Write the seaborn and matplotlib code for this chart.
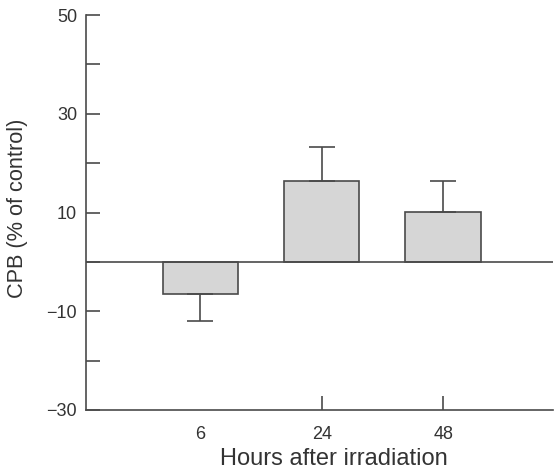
import matplotlib
matplotlib.use("Agg")
import matplotlib.pyplot as plt
import seaborn as sns
import pandas as pd
import numpy as np

# CPB response after irradiation, relative to control
hours = ["6", "24", "48"]
cpb_mean = [-6.5, 16.3, 10.2]
cpb_err = [5.5, 7.0, 6.1]

sns.set_theme(style="white")
plt.rcParams["font.family"] = ["Liberation Sans", "DejaVu Sans"]

ink = "#333333"
line = "#4a4a4a"
df = pd.DataFrame({"hours": hours, "cpb": cpb_mean})

fig = plt.figure(figsize=(5.6, 4.73), dpi=100)
ax = fig.add_axes([0.1536, 0.1332, 0.834, 0.8348])

sns.barplot(data=df, x="hours", y="cpb", ax=ax, color="#d6d6d6",
            edgecolor=line, linewidth=1.2, width=0.62, saturation=1)

# one-sided error bars pointing away from zero
for i, (m, e) in enumerate(zip(cpb_mean, cpb_err)):
    yerr = [[0], [e]] if m >= 0 else [[e], [0]]
    ax.errorbar(i, m, yerr=yerr, fmt="none", ecolor=line, elinewidth=1.2,
                capsize=9.5, capthick=1.2, zorder=3)

ax.axhline(0, color=line, lw=1.2, zorder=4)

ax.set_xlim(-0.94, 2.905)
ax.set_ylim(-30, 50)
ax.set_yticks([-30, -10, 10, 30, 50])
ax.set_yticks([-20, 0, 20, 40], minor=True)

for side in ["top", "right"]:
    ax.spines[side].set_visible(False)
for side in ["left", "bottom"]:
    ax.spines[side].set_color(line)
    ax.spines[side].set_linewidth(1.2)

ax.tick_params(axis="y", which="both", direction="in", length=10,
               width=1.2, color=line, labelsize=13, labelcolor=ink, pad=6.5,
               left=True)
ax.tick_params(axis="x", direction="in", length=10, width=1.2,
               color=line, labelsize=13, labelcolor=ink, pad=11.5, bottom=True)
ax.set_yticklabels(["\u221230", "\u221210", "10", "30", "50"])
# the first category carries no visible tick mark
ax.xaxis.get_major_ticks()[0].tick1line.set_visible(False)

ax.set_xlabel("Hours after irradiation", fontsize=17, color=ink)
ax.xaxis.set_label_coords(0.53, -0.097)
ax.set_ylabel("CPB (% of control)", fontsize=15.7, color=ink)
ax.yaxis.set_label_coords(-0.124, 0.51)

fig.savefig("out.png", dpi=100, facecolor="white")
